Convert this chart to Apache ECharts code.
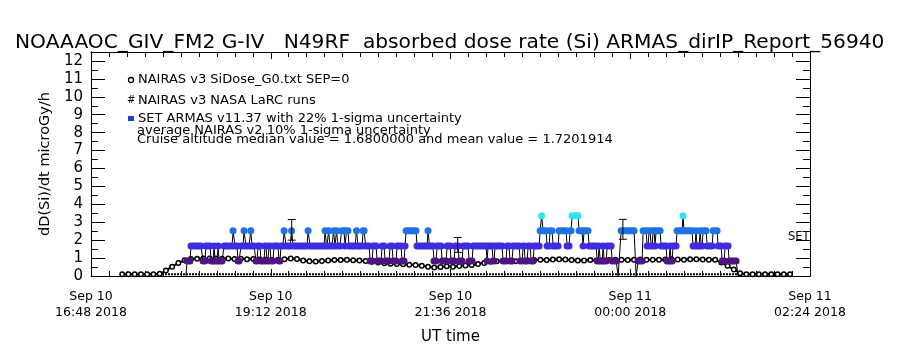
<!DOCTYPE html>
<html><head><meta charset="utf-8">
<script src="https://cdn.jsdelivr.net/npm/echarts/dist/echarts.min.js"></script>
<style>html,body{margin:0;padding:0;background:#fff}#c{width:900px;height:350px}</style>
</head><body><div id="c"></div>
<script>
// ---- data (time = minutes after 2018-09-10 16:48 UT) ----
const startUT = Date.UTC(2018, 8, 10, 16, 48);
const axisSpanMin = 576;
const majorStepMin = 144;
const yMin = 0, yMax = 12.5;

// NAIRAS v3 SiDose_G0 (circles), sampled every 5 minutes
const nairasStartMin = 25;
const nairasStepMin = 5;
const nairasDose = [0.1,0.1,0.1,0.1,0.1,0.1,
  0.12,0.3,0.52,0.72,0.88,0.95,0.96,0.98,0.97,0.98,0.96,0.97,0.95,0.96,0.93,0.95,0.92,0.91,0.89,0.9,0.93,0.97,0.95,0.86,
  0.82,0.81,0.84,0.87,0.89,0.89,0.9,0.88,0.87,0.84,0.8,0.75,0.71,0.69,0.67,0.65,0.63,0.61,0.57,0.52,
  0.48,0.5,0.54,0.51,0.56,0.58,0.62,0.67,0.73,0.79,0.82,0.84,0.84,0.82,0.84,0.86,0.89,0.91,0.89,0.92,
  0.94,0.92,0.89,0.86,0.87,0.89,0.87,0.86,0.89,0.91,0.9,0.89,0.91,0.92,0.91,0.9,0.91,0.92,0.94,0.92,
  0.91,0.94,0.94,0.92,0.91,0.9,0.76,0.57,0.36,0.16,
  0.1,0.1,0.1,0.1,0.1,0.1,0.1,0.1];

// NAIRAS v3 NASA LaRC runs (flat at ground level)
const larcMin = [25.6, 561.7];
const larcDose = [0.1, 0.1];

// SET ARMAS runs: from, to (minutes), dose level
const armasFrom = [76.1,76.9,80.1,89.7,92.1,96.2,98.6,99.4,101.8,102.6,106.6,113.8,115.4,117.8,120.2,122.6,124.2,128,129,132.2,
  133.8,136.2,139.4,141,142.6,144.2,146.6,150.6,152.2,154.7,156.3,160.7,161.9,173.9,175.5,187.5,188.7,190.3,191.5,194.3,
  195.5,196.7,197.9,200.7,203.5,204.7,206.7,212.7,213.9,218,220,223.6,226,229.2,233.2,235.6,239.6,242,245.2,249.2,
  251.6,252.4,261.2,270,271.2,274.8,277.3,281.3,285.3,288.5,291.7,294.9,298.1,302.9,306.1,317.3,318.1,322.1,323.7,330.1,
  333.3,335.7,338.2,343.8,346.2,347.8,350.2,352.6,355,359.8,361,362.2,365.4,367.8,370.2,375,381.4,383.8,385.4,391,
  394.2,395,399,405.5,407.1,407.9,410.3,411.1,413.5,417.5,422.3,424.7,436.7,438.3,442.3,445.5,447.1,448.7,450.3,451.9,
  452.7,456.7,461.5,463.9,464.7,466.3,469.5,474.3,475.1,482.3,484.7,485.5,488,488.8,490.4,493.6,498.4,502.4,505.6,508,
  511.2,518.4];
const armasTo = [76.1,79.3,88.1,91.3,95.4,97.8,98.6,101,101.8,105,113,113.8,117,118.6,121.8,122.6,126.6,128,130.6,133,
  135.4,138.6,140.2,141.8,143.4,145.8,149.8,151.4,153.8,154.7,159.5,160.7,173.1,173.9,186.7,187.5,189.1,190.3,193.1,194.3,
  195.5,196.7,199.5,202.7,203.5,205.9,211.5,212.7,217.2,218.8,222.8,225.2,228.4,232.4,234.8,238.8,241.2,244.4,248.4,250.8,
  251.6,260.4,269.2,270,274,276.4,280.5,284.5,287.7,290.9,294.1,297.3,302.1,305.3,316.5,317.3,321.3,322.9,329.3,332.5,
  334.9,337.3,343,345.4,347,349.4,351.8,354.2,359,359.8,361,364.6,367,369.4,374.2,380.6,383,384.6,390.2,393.4,
  394.2,398.2,404.7,406.3,407.1,409.5,410.3,412.7,416.7,420.7,422.3,435.1,436.7,441.5,444.7,446.3,447.9,449.5,451.1,451.9,
  455.9,460.7,463.1,463.9,465.5,468.7,473.5,474.3,481.5,483.9,484.7,487.1,488,489.6,492.8,497.6,501.6,504.8,507.2,510.4,
  516.8,518.4];
const armasDose = [0,0.84,1.68,0.84,1.68,0.84,1.68,0.84,1.68,0.84,1.68,2.52,1.68,0.84,1.68,2.52,1.68,2.52,1.68,0.84,
  1.68,0.84,1.68,0.84,1.68,0.84,1.68,0.84,1.68,2.52,1.68,2.52,1.68,2.52,1.68,2.52,1.68,2.52,1.68,2.52,
  1.68,2.52,1.68,2.52,1.68,2.52,1.68,2.52,1.68,2.52,1.68,0.84,1.68,0.84,1.68,0.84,1.68,0.84,1.68,0.84,
  1.68,2.52,1.68,2.52,1.68,0.84,1.68,0.84,1.68,0.84,1.68,0.84,1.68,0.84,1.68,0.84,1.68,0.84,1.68,0.84,
  1.68,0.84,1.68,0.84,1.68,0.84,1.68,0.84,1.68,2.52,3.36,2.52,1.68,2.52,1.68,2.52,1.68,2.52,3.36,2.52,
  1.68,2.52,1.68,0.84,1.68,0.84,1.68,0.84,1.68,0.84,0,2.52,0,0.84,2.52,1.68,2.52,1.68,2.52,1.68,
  2.52,1.68,0.84,1.68,0.84,1.68,2.52,3.36,2.52,1.68,2.52,1.68,2.52,1.68,2.52,1.68,2.52,1.68,0.84,1.68,
  0.84,0];

// error bars (22% 1-sigma) on ARMAS averages
const errMin = [160.8, 293.8, 426.1];
const errLow = [2.0, 1.32, 2.05];
const errHigh = [3.15, 2.15, 3.16];

// ---- styles ----
const levelValues = [0.84, 1.68, 2.52, 3.36];
const levelColors = ['#4e1484', '#3f2ce2', '#1f72e4', '#2fe4f0'];
const FONT = "'DejaVu Sans', sans-serif";
const MON = ['Jan','Feb','Mar','Apr','May','Jun','Jul','Aug','Sep','Oct','Nov','Dec'];
const pad = n => (n < 10 ? '0' : '') + n;
function fmtTime(v) {
  const d = new Date(startUT + v * 60000);
  return MON[d.getUTCMonth()] + ' ' + d.getUTCDate() + '\n' + pad(d.getUTCHours()) + ':' + pad(d.getUTCMinutes()) + ' ' + d.getUTCFullYear();
}
function levelColor(v) {
  let best = 0;
  levelValues.forEach((l, i) => { if (Math.abs(l - v) < Math.abs(levelValues[best] - v)) best = i; });
  return levelColors[best];
}

const nairasData = nairasDose.map((v, i) => [nairasStartMin + i * nairasStepMin, v]);
const larcData = larcMin.map((t, i) => [t, larcDose[i]]);
const bandData = armasFrom.map((f, i) => [f, armasTo[i], armasDose[i]]);
const stemData = [];
for (let i = 1; i < armasFrom.length; i++) stemData.push([armasTo[i - 1], armasDose[i - 1], armasFrom[i], armasDose[i]]);
const errData = errMin.map((t, i) => [t, errLow[i], errHigh[i]]);

const black = '#000';
function xAxisCfg(pos, labels) {
  return {
    type: 'value', position: pos, min: 0, max: axisSpanMin, interval: majorStepMin,
    axisLine: { show: true, onZero: false, lineStyle: { color: black, width: 1 } },
    axisTick: { show: true, inside: true, length: 7, lineStyle: { color: black } },
    minorTick: { show: true, splitNumber: 10, length: 5, lineStyle: { color: black } },
    splitLine: { show: false },
    axisLabel: labels ? { show: true, formatter: fmtTime, color: black, fontFamily: FONT, fontSize: 12.5, lineHeight: 15.5, margin: 13, showMinLabel: true, showMaxLabel: true } : { show: false },
    name: labels ? 'UT time' : '', nameLocation: 'middle', nameGap: 54,
    nameTextStyle: { color: black, fontFamily: FONT, fontSize: 15 }
  };
}
function yAxisCfg(pos, step, len, labels) {
  return {
    type: 'value', position: pos, min: yMin, max: yMax, interval: step, offset: 0,
    axisLine: { show: true, onZero: false, lineStyle: { color: black, width: 1 } },
    axisTick: { show: true, inside: true, length: len, lineStyle: { color: black } },
    splitLine: { show: false },
    axisLabel: labels ? { show: true, color: black, fontFamily: FONT, fontSize: 15, margin: 8, verticalAlign: 'middle', padding: [0, 0, 14, 0],
      formatter: v => (Number.isInteger(v) ? String(v) : '') } : { show: false },
    name: labels ? 'dD(Si)/dt microGy/h' : '', nameLocation: 'middle', nameGap: 38,
    nameTextStyle: { color: black, fontFamily: FONT, fontSize: 14.5 }
  };
}

const chart = echarts.init(document.getElementById('c'), null, { renderer: 'canvas' });
chart.setOption({
  animation: false,
  backgroundColor: '#fff',
  title: { text: 'NOAAAOC_GIV_FM2 G-IV   N49RF  absorbed dose rate (Si) ARMAS_dirIP_Report_56940', left: 10, top: 28,
    textStyle: { color: black, fontFamily: FONT, fontWeight: 'normal', fontSize: 20.2 } },
  grid: { left: 91, right: 90, top: 52, bottom: 71, containLabel: false },
  xAxis: [xAxisCfg('bottom', true), xAxisCfg('top', false)],
  yAxis: [yAxisCfg('left', 1, 14, true), yAxisCfg('left', 0.5, 7, false), yAxisCfg('right', 1, 14, false), yAxisCfg('right', 0.5, 7, false)],
  series: [
    { name: 'NAIRAS v3 NASA LaRC runs', type: 'line', data: larcData, showSymbol: false, z: 2, clip: false,
      lineStyle: { color: black, width: 2, type: [2, 1] } },
    { name: 'NAIRAS v3 SiDose_G0.txt SEP=0', type: 'line', data: nairasData, symbol: 'circle', symbolSize: 4.5, z: 3,
      itemStyle: { color: '#fff', borderColor: black, borderWidth: 1.5 }, lineStyle: { color: black, width: 2 } },
    { name: 'ARMAS stems', type: 'custom', data: stemData, z: 4, clip: true, encode: { x: [0, 2], y: [1, 3] },
      renderItem: (p, api) => {
        const a = api.coord([api.value(0), api.value(1)]);
        const b = api.coord([api.value(2), api.value(3)]);
        return { type: 'line', shape: { x1: a[0], y1: a[1], x2: b[0], y2: b[1] }, style: { stroke: black, lineWidth: 1 } };
      } },
    { name: 'SET ARMAS v11.37 with 22% 1-sigma uncertainty', type: 'custom', data: bandData, z: 5, clip: true, encode: { x: [0, 1], y: 2 },
      renderItem: (p, api) => {
        const lv = api.value(2);
        if (lv <= 0) return null;
        const a = api.coord([api.value(0), lv]);
        const b = api.coord([api.value(1), lv]);
        const h = 7;
        return { type: 'rect', shape: { x: a[0] - h / 2, y: a[1] - h / 2, width: b[0] - a[0] + h, height: h, r: h / 2 },
          style: { fill: levelColor(lv) } };
      } },
    { name: 'ARMAS error', type: 'custom', data: errData, z: 6, clip: true, encode: { x: 0, y: [1, 2] },
      renderItem: (p, api) => {
        const lo = api.coord([api.value(0), api.value(1)]);
        const hi = api.coord([api.value(0), api.value(2)]);
        const w = 4;
        const st = { stroke: black, lineWidth: 1 };
        return { type: 'group', children: [
          { type: 'line', shape: { x1: lo[0], y1: lo[1], x2: hi[0], y2: hi[1] }, style: st },
          { type: 'line', shape: { x1: lo[0] - w, y1: lo[1], x2: lo[0] + w, y2: lo[1] }, style: st },
          { type: 'line', shape: { x1: hi[0] - w, y1: hi[1], x2: hi[0] + w, y2: hi[1] }, style: st }
        ] };
      } }
  ],
  graphic: [
    { type: 'circle', shape: { cx: 131, cy: 80, r: 2.5 }, style: { fill: '#fff', stroke: black, lineWidth: 1.3 } },
    { type: 'text', left: 127, top: 95, style: { text: '#', fontSize: 10, fontFamily: FONT, fill: black } },
    { type: 'rect', shape: { x: 128, y: 116, width: 6, height: 5 }, style: { fill: '#1f3cd8' } },
    { type: 'text', x: 138, y: 80, style: { text: 'NAIRAS v3 SiDose_G0.txt SEP=0', fontSize: 13, fontFamily: FONT, fill: black, verticalAlign: 'middle' } },
    { type: 'text', x: 138, y: 101, style: { text: 'NAIRAS v3 NASA LaRC runs', fontSize: 13, fontFamily: FONT, fill: black, verticalAlign: 'middle' } },
    { type: 'text', x: 138, y: 119, style: { text: 'SET ARMAS v11.37 with 22% 1-sigma uncertainty', fontSize: 13, fontFamily: FONT, fill: black, verticalAlign: 'middle' } },
    { type: 'text', x: 137, y: 131, style: { text: 'average NAIRAS v2 10% 1-sigma uncertainty', fontSize: 13, fontFamily: FONT, fill: black, verticalAlign: 'middle' } },
    { type: 'text', x: 137, y: 140, style: { text: 'Cruise altitude median value = 1.6800000 and mean value = 1.7201914', fontSize: 13, fontFamily: FONT, fill: black, verticalAlign: 'middle' } },
    { type: 'text', x: 788, y: 237, style: { text: 'SET', fontSize: 11.5, fontFamily: FONT, fill: black, verticalAlign: 'middle' } }
  ]
});
</script></body></html>
